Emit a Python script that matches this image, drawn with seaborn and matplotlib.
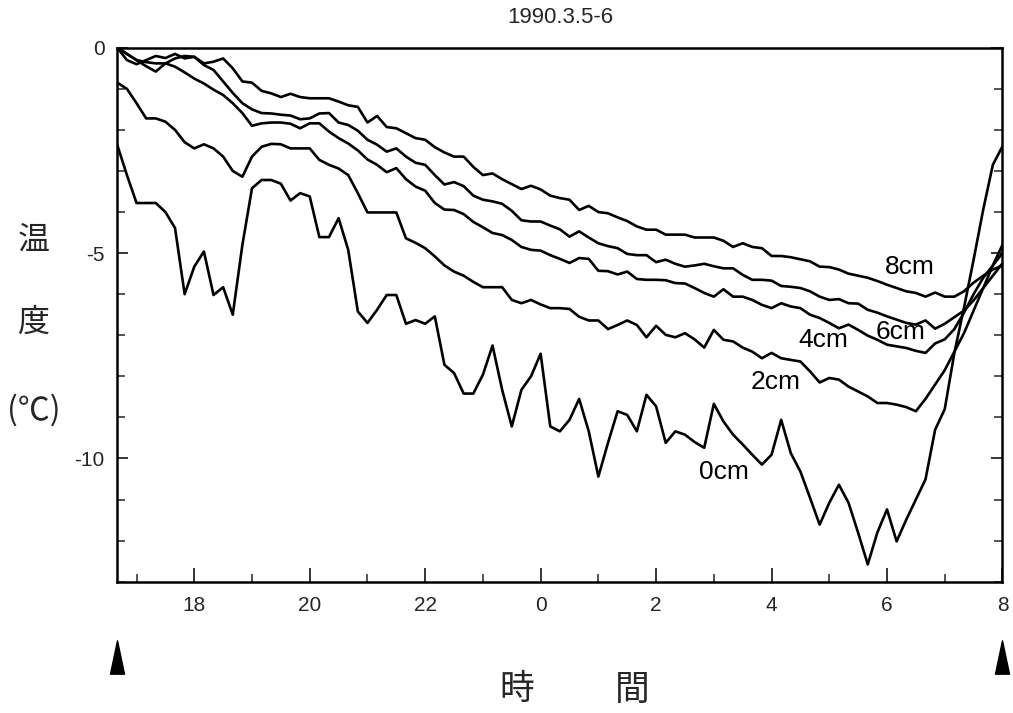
import numpy as np
import pandas as pd
import matplotlib
matplotlib.use("Agg")
import matplotlib.pyplot as plt
import matplotlib.transforms as mtransforms
from matplotlib.path import Path
from matplotlib.ticker import MultipleLocator, FixedLocator, FixedFormatter
import seaborn as sns

# ---------------- data (10-minute readings, 16:40 -> 08:00) ----------------
start_hour = 16 + 40 / 60
step_hours = 10 / 60

temp_0cm = [-2.37, -3.1, -3.78, -3.78, -3.78, -4.0, -4.39, -6.0, -5.33, -4.96,
            -6.02, -5.83, -6.5, -4.8, -3.42, -3.22, -3.22, -3.31, -3.72, -3.54,
            -3.62, -4.61, -4.61, -4.15, -4.92, -6.42, -6.70, -6.38, -6.02, -6.02,
            -6.72, -6.63, -6.72, -6.54, -7.72, -7.92, -8.42, -8.42, -7.96, -7.25,
            -8.33, -9.22, -8.33, -8.0, -7.45, -9.22, -9.34, -9.06, -8.55, -9.34,
            -10.44, -9.62, -8.85, -8.94, -9.34, -8.45, -8.73, -9.62, -9.34, -9.42,
            -9.6, -9.74, -8.67, -9.1, -9.42, -9.66, -9.91, -10.15, -9.91, -9.06,
            -9.87, -10.32, -10.96, -11.61, -11.08, -10.64, -11.08, -11.81, -12.58, -11.8,
            -11.24, -12.02, -11.49, -11.0, -10.51, -9.3, -8.8, -7.43, -6.33, -5.16,
            -3.94, -2.85, -2.4]

temp_2cm = [-0.85, -1.0, -1.35, -1.72, -1.72, -1.8, -2.0, -2.3, -2.45, -2.35,
            -2.45, -2.65, -3.0, -3.14, -2.65, -2.41, -2.34, -2.35, -2.45, -2.45,
            -2.45, -2.73, -2.85, -2.94, -3.1, -3.54, -4.01, -4.01, -4.01, -4.01,
            -4.64, -4.75, -4.88, -5.08, -5.3, -5.45, -5.55, -5.7, -5.83, -5.83,
            -5.83, -6.14, -6.22, -6.14, -6.25, -6.34, -6.34, -6.36, -6.55, -6.64,
            -6.64, -6.85, -6.75, -6.64, -6.75, -7.05, -6.77, -6.99, -7.05, -6.95,
            -7.1, -7.3, -6.87, -7.11, -7.15, -7.3, -7.4, -7.56, -7.43, -7.56,
            -7.6, -7.64, -7.88, -8.15, -8.04, -8.08, -8.25, -8.37, -8.49, -8.65,
            -8.65, -8.69, -8.75, -8.85, -8.55, -8.2, -7.85, -7.4, -6.95, -6.4,
            -5.85, -5.3, -4.8]

temp_4cm = [0.0, -0.15, -0.3, -0.35, -0.38, -0.38, -0.46, -0.6, -0.75, -0.87,
            -1.02, -1.15, -1.35, -1.59, -1.9, -1.84, -1.82, -1.82, -1.85, -1.96,
            -1.84, -1.84, -2.04, -2.2, -2.33, -2.5, -2.72, -2.85, -3.03, -2.93,
            -3.2, -3.38, -3.48, -3.78, -3.94, -3.95, -4.05, -4.24, -4.37, -4.51,
            -4.56, -4.68, -4.85, -4.92, -4.94, -5.05, -5.14, -5.24, -5.12, -5.14,
            -5.43, -5.44, -5.52, -5.45, -5.63, -5.65, -5.65, -5.66, -5.73, -5.74,
            -5.85, -5.97, -6.06, -5.88, -6.06, -6.06, -6.14, -6.26, -6.34, -6.22,
            -6.3, -6.34, -6.5, -6.58, -6.7, -6.83, -6.74, -6.87, -7.01, -7.11,
            -7.23, -7.27, -7.31, -7.38, -7.43, -7.2, -7.1, -6.85, -6.45, -6.0,
            -5.6, -5.3, -5.0]

temp_6cm = [0.0, -0.3, -0.4, -0.3, -0.2, -0.25, -0.15, -0.26, -0.22, -0.42,
            -0.54, -0.82, -1.1, -1.35, -1.5, -1.59, -1.6, -1.63, -1.65, -1.74,
            -1.72, -1.6, -1.59, -1.82, -1.88, -2.02, -2.24, -2.36, -2.53, -2.45,
            -2.65, -2.8, -2.85, -3.1, -3.33, -3.27, -3.37, -3.6, -3.7, -3.74,
            -3.8, -3.97, -4.2, -4.23, -4.23, -4.33, -4.42, -4.6, -4.47, -4.62,
            -4.76, -4.83, -4.88, -5.02, -5.05, -5.05, -5.22, -5.16, -5.26, -5.33,
            -5.3, -5.26, -5.32, -5.37, -5.37, -5.53, -5.65, -5.65, -5.67, -5.8,
            -5.82, -5.85, -5.93, -6.06, -6.14, -6.12, -6.22, -6.23, -6.38, -6.45,
            -6.54, -6.62, -6.7, -6.74, -6.64, -6.84, -6.72, -6.56, -6.4, -6.15,
            -5.85, -5.55, -5.25]

temp_8cm = [0.0, -0.15, -0.3, -0.45, -0.58, -0.38, -0.26, -0.2, -0.22, -0.38,
            -0.34, -0.26, -0.5, -0.82, -0.85, -1.05, -1.11, -1.2, -1.12, -1.2,
            -1.23, -1.23, -1.23, -1.31, -1.4, -1.44, -1.82, -1.66, -1.93, -1.96,
            -2.08, -2.2, -2.24, -2.42, -2.55, -2.65, -2.65, -2.9, -3.1, -3.06,
            -3.2, -3.32, -3.44, -3.36, -3.45, -3.6, -3.66, -3.7, -3.95, -3.85,
            -4.0, -4.03, -4.13, -4.22, -4.35, -4.43, -4.43, -4.55, -4.55, -4.55,
            -4.62, -4.62, -4.62, -4.7, -4.85, -4.76, -4.85, -4.88, -5.07, -5.07,
            -5.1, -5.15, -5.2, -5.33, -5.34, -5.4, -5.5, -5.55, -5.6, -5.68,
            -5.77, -5.85, -5.93, -5.97, -6.06, -5.96, -6.06, -6.06, -5.93, -5.72,
            -5.55, -5.4, -5.3]

depths = ["0cm", "2cm", "4cm", "6cm", "8cm"]
series = [temp_0cm, temp_2cm, temp_4cm, temp_6cm, temp_8cm]

xtick_pos = [18, 20, 22, 24, 26, 28, 30, 32]
xtick_labels = ["18", "20", "22", "0", "2", "4", "6", "8"]
ytick_pos = [0, -5, -10]
ytick_labels = ["0", "-5", "-10"]

title_text = "1990.3.5-6"
ylabel_chars = ["温", "度", "(℃)"]
xlabel_chars = ["時", "間"]

# depth-label anchor points (data coords)
label_x = [27.17, 28.07, 28.89, 30.24, 30.39]
label_y = [-10.32, -8.13, -7.11, -6.92, -5.34]

# ---------------- build long table ----------------
n = len(temp_0cm)
times = start_hour + step_hours * np.arange(n)
df = pd.concat(
    [pd.DataFrame({"time": times, "temp": vals, "depth": d})
     for d, vals in zip(depths, series)],
    ignore_index=True,
)

# ---------------- style ----------------
sns.set_style("ticks")
plt.rcParams["font.family"] = ["Liberation Sans", "Noto Sans CJK JP", "DejaVu Sans"]
narrow = ["Liberation Sans Narrow", "Liberation Sans", "DejaVu Sans"]
cjk = ["Noto Sans CJK JP", "DejaVu Sans"]

fig = plt.figure(figsize=(10.13, 7.13), dpi=100)
ax = fig.add_axes([0.1158, 0.1842, 0.8738, 0.7488])

sns.lineplot(data=df, x="time", y="temp", hue="depth", units="depth",
             estimator=None, palette=["black"] * len(depths), legend=False,
             linewidth=1.9, ax=ax)

ax.set_xlim(start_hour, times[-1])
ax.set_ylim(-13, 0)

ax.xaxis.set_major_locator(FixedLocator(xtick_pos))
ax.xaxis.set_major_formatter(FixedFormatter(xtick_labels))
ax.xaxis.set_minor_locator(MultipleLocator(1))
ax.yaxis.set_major_locator(FixedLocator(ytick_pos))
ax.yaxis.set_major_formatter(FixedFormatter(ytick_labels))
ax.yaxis.set_minor_locator(MultipleLocator(1))

ax.tick_params(axis="x", which="major", direction="in", length=10, width=1.3,
               bottom=True, top=False, pad=10)
ax.tick_params(axis="x", which="minor", direction="in", length=6, width=1.1,
               bottom=True, top=False)
ax.tick_params(axis="y", which="major", direction="in", length=8, width=1.3,
               left=True, right=True, pad=9)
ax.tick_params(axis="y", which="minor", direction="in", length=6, width=1.1,
               left=True, right=True)
for lab in ax.get_xticklabels() + ax.get_yticklabels():
    lab.set_family(narrow)
    lab.set_fontsize(15)

for sp in ax.spines.values():
    sp.set_visible(True)
    sp.set_linewidth(1.8)
    sp.set_color("black")

ax.set_xlabel("")
ax.set_ylabel("")
ax.set_title(title_text, fontsize=16, pad=18)

for d, lx, ly in zip(depths, label_x, label_y):
    ax.text(lx, ly, d, fontsize=19, ha="center", va="center", color="black")

# y-axis label (stacked characters)
for ch, yy in zip(ylabel_chars, [240, 323, 410]):
    fig.text(34 / 1013, 1 - yy / 713, ch, fontsize=23, ha="center", va="center",
             family=cjk)

# x-axis label
for ch, xx in zip(xlabel_chars, [517, 632]):
    fig.text(xx / 1013, 1 - 690 / 713, ch, fontsize=25, ha="center", va="center",
             family=cjk)

# start / end markers below the axis
tri = Path([(-0.42, -1.0), (0.42, -1.0), (0.0, 1.0), (-0.42, -1.0)],
           [Path.MOVETO, Path.LINETO, Path.LINETO, Path.CLOSEPOLY])
blend = mtransforms.blended_transform_factory(ax.transData, ax.transAxes)
ax.plot([times[0], times[-1]], [-0.141, -0.141], transform=blend, ls="none",
        marker=tri, markersize=24, color="black", clip_on=False)

fig.savefig("out.png", dpi=100, facecolor="white")
